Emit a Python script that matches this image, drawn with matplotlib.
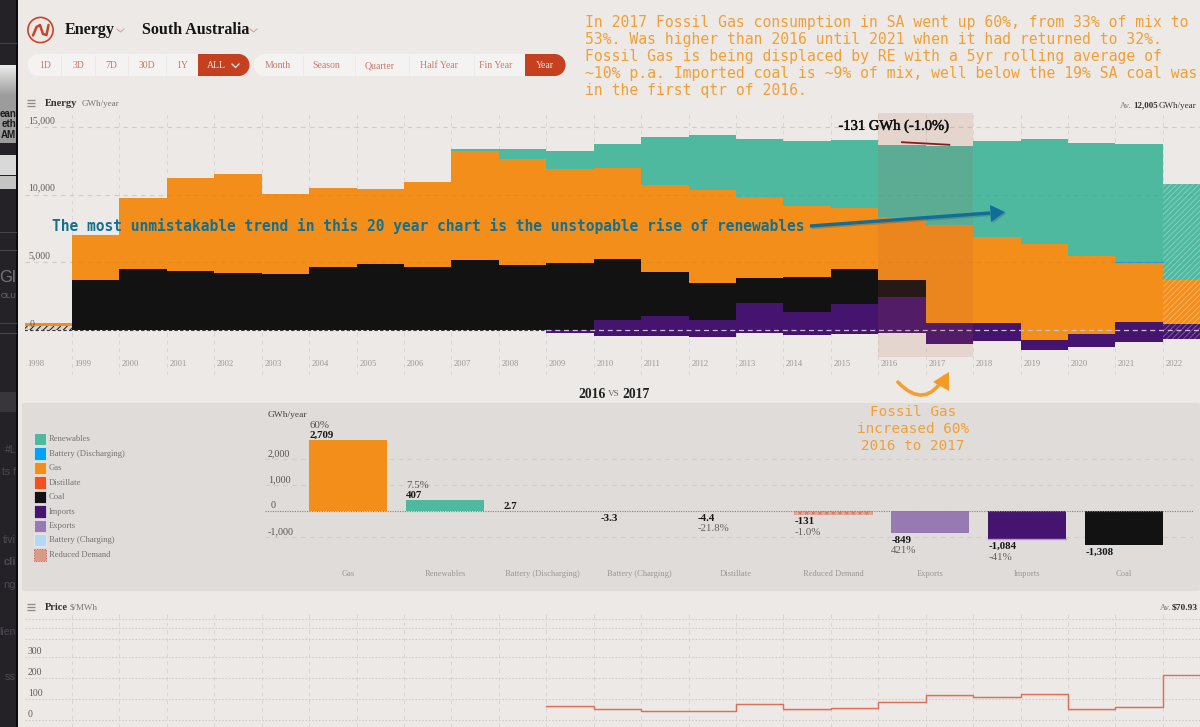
import numpy as np
import matplotlib
matplotlib.use("Agg")
import matplotlib.pyplot as plt
from matplotlib.patches import Rectangle, Circle, FancyArrowPatch, FancyBboxPatch, Polygon
import matplotlib.patheffects as pe

plt.rcParams["font.family"] = ["Liberation Serif", "DejaVu Serif"]
plt.rcParams["hatch.linewidth"] = 0.7

W, H = 1200, 727
BG = "#ECE9E6"
PANEL = "#DFDCD9"
GAS = "#F48E1B"
RENEW = "#4FB9A0"
COAL = "#121212"
IMPORTS = "#44146F"
EXPORTS = "#977AB1"
ORANGE_TXT = "#F2A035"
TEAL_TXT = "#13708F"
GRID = "#D8D5D2"

# energy chart, tops of each stacked layer in GWh/year
years = np.arange(1998, 2023)
exports_low = [0, 0, 0, 0, 0, 0, 0, 0, 0, 0, 0, -250, -440, -440, -520, -200, -395, -320, -200, -1060, -840, -1455, -1260, -910, -670]
imports_top = [0, 0, 0, 0, 0, 0, 0, 0, 0, 0, 0, 0, 740, 1035, 740, 1970, 1360, 1900, 2440, 490, 520, -760, -270, 570, 470]
coal_top = [300, 3700, 4515, 4365, 4190, 4170, 4660, 4860, 4660, 5150, 4785, 4960, 5230, 4270, 3450, 3820, 3950, 4540, 3725, 490, 520, -760, -270, 570, 470]
gas_top = [490, 7030, 9740, 11270, 11520, 10040, 10530, 10410, 10970, 13270, 12630, 11910, 12010, 10750, 10380, 9870, 9200, 9050, 8340, 7750, 6860, 6390, 5480, 4935, 3700]
renew_top = [490, 7030, 9740, 11270, 11520, 10040, 10530, 10410, 10970, 13370, 13390, 13220, 13770, 14280, 14400, 14130, 14010, 14040, 13720, 13620, 13990, 14140, 13840, 13740, 10820]
demand_x = [2016.5, 2017.5]
demand_y = [13890, 13700]
energy_ticks = [15000, 10000, 5000]

# 2016 vs 2017 bars
categories = ["Gas", "Renewables", "Battery (Discharging)", "Battery (Charging)", "Distillate", "Reduced Demand", "Exports", "Imports", "Coal"]
changes = [2709, 407, 2.7, -3.3, -4.4, -131, -849, -1084, -1308]
change_text = ["2,709", "407", "2.7", "-3.3", "-4.4", "-131", "-849", "-1,084", "-1,308"]
pct_text = ["60%", "7.5%", "", "", "-21.8%", "-1.0%", "421%", "-41%", ""]
bar_colors = [GAS, RENEW, "#00A2FA", "#B3D9F0", "#F35020", "#E3A898", EXPORTS, IMPORTS, COAL]
legend_names = ["Renewables", "Battery (Discharging)", "Gas", "Distillate", "Coal", "Imports", "Exports", "Battery (Charging)", "Reduced Demand"]
legend_colors = [RENEW, "#00A2FA", GAS, "#F35020", COAL, IMPORTS, EXPORTS, "#B3D9F0", "#DA9A88"]

# price chart, $/MWh
price_years = np.arange(2009, 2023)
price = [67, 54, 44, 44, 78, 52, 55, 87, 117, 111, 124, 51, 63, 216]
price_grid = [481, 438, 386, 300, 200, 100, 0]


def px_axes(fig, x0, y0, x1, y1, zorder=1):
    # axes from pixel box, y counted from the top of the image
    ax = fig.add_axes([x0 / W, 1 - y1 / H, (x1 - x0) / W, (y1 - y0) / H], zorder=zorder)
    ax.patch.set_alpha(0)
    for s in ax.spines.values():
        s.set_visible(False)
    ax.set_xticks([])
    ax.set_yticks([])
    return ax


def hamburger(ax, x, y):
    for dy in (-3, 0, 3):
        ax.plot([x, x + 8], [y + dy, y + dy], color="#8A8784", lw=0.9, solid_capstyle="butt")


fig = plt.figure(figsize=(12, 7.27), dpi=100, facecolor=BG)

# page layer in pixel coordinates
page = fig.add_axes([0, 0, 1, 1], zorder=0)
page.set_xlim(0, W)
page.set_ylim(H, 0)
page.axis("off")

# the window behind, on the left
page.add_patch(Rectangle((0, 0), 16, H, fc="#242127", ec="none"))
page.add_patch(Rectangle((16, 0), 1.5, H, fc="#0B0A0C", ec="none"))
page.imshow(np.linspace(0.92, 0.62, 30)[:, None], extent=(0, 16, 95, 65), cmap="gray", vmin=0, vmax=1, aspect="auto", zorder=1)
page.add_patch(Rectangle((0, 95), 16, 48, fc="#9C9C9C", ec="none", zorder=1))
page.add_patch(Rectangle((0, 155), 16, 20, fc="#D9D9D9", ec="none", zorder=1))
page.add_patch(Rectangle((0, 176), 16, 13, fc="#C4C4C4", ec="none", zorder=1))
page.add_patch(Rectangle((0, 392), 16, 20, fc="#39363B", ec="none", zorder=1))
page.set_xlim(0, W)
page.set_ylim(H, 0)
for y in (43, 232, 250, 323, 333):
    page.plot([0, 16], [y, y], color="#45424A", lw=0.8)
for txt, y, c, fs, wt in [("ean", 114, "#1A1A1A", 7, "bold"), ("eth", 124, "#1A1A1A", 7, "bold"), ("AM", 135, "#1A1A1A", 7, "bold"),
                          ("Gl", 277, "#77747A", 12, "normal"), ("OLU", 297, "#77747A", 5.5, "normal"), ("#L", 450, "#4D4A52", 7.5, "normal"),
                          ("ts f", 472, "#4D4A52", 7.5, "normal"), ("tivi", 540, "#4D4A52", 7.5, "normal"), ("cli", 562, "#4D4A52", 8, "bold"),
                          ("ng", 585, "#4D4A52", 8, "normal"), ("lien", 632, "#4D4A52", 7.5, "normal"), ("ss", 677, "#4D4A52", 8, "normal")]:
    page.text(16, y, txt, ha="right", va="center", color=c, fontsize=fs, fontweight=wt, family="Liberation Sans", zorder=2)

# header
page.add_patch(Circle((40.5, 30), 12.6, fc="none", ec="#C8452A", lw=1.2))
page.plot([33, 36.5, 40, 43, 46.5, 48.5], [35.5, 27, 25, 34, 35, 25], color="#C8452A", lw=1.8, solid_capstyle="round")
page.text(65, 30, "Energy", fontsize=11.6, fontweight="bold", va="center", color="#151515")
page.text(142, 30, "South Australia", fontsize=11.5, fontweight="bold", va="center", color="#151515")
for x in (117, 250):
    page.plot([x, x + 3.5, x + 7], [29, 32, 29], color="#CFA89E", lw=0.8)

page.add_patch(Rectangle((38.5, 54), 180, 22, fc="#F5F3F1", ec="none"))
page.add_patch(Circle((38.5, 65), 11, fc="#F5F3F1", ec="none"))
page.add_patch(Rectangle((198, 54), 40.5, 22, fc="#C5401F", ec="none"))
page.add_patch(Circle((238.5, 65), 11, fc="#C5401F", ec="none"))
page.add_patch(Rectangle((264.5, 54), 270, 22, fc="#F5F3F1", ec="none"))
page.add_patch(Circle((264.7, 65), 11, fc="#F5F3F1", ec="none"))
page.add_patch(Rectangle((524.7, 54), 30, 22, fc="#C5401F", ec="none"))
page.add_patch(Circle((554.6, 65), 11, fc="#C5401F", ec="none"))
range_labels = ["1D", "3D", "7D", "30D", "1Y", "Month", "Season", "Quarter", "Half Year", "Fin Year"]
range_x = [45, 78, 111, 147, 182, 278, 326, 380, 439, 496]
for lab, x in zip(range_labels, range_x):
    page.text(x, 65.5, lab, ha="center", va="center", fontsize=7, color="#C9796A")
for x in (61, 95, 128, 166, 303, 355, 409, 474):
    page.plot([x, x], [55, 75], color="#ECE9E6", lw=0.6)
page.text(216, 65.5, "ALL", ha="center", va="center", fontsize=7, color="#F6E6E0")
page.plot([232, 235.5, 239], [64, 67.5, 64], color="#F6E6E0", lw=0.9)
page.text(545, 65.5, "Year", ha="center", va="center", fontsize=7, color="#F6E6E0")

note = ("In 2017 Fossil Gas consumption in SA went up 60%, from 33% of mix to\n"
        "53%. Was higher than 2016 until 2021 when it had returned to 32%.\n"
        "Fossil Gas is being displaced by RE with a 5yr rolling average of\n"
        "~10% p.a. Imported coal is ~9% of mix, well below the 19% SA coal was\n"
        "in the first qtr of 2016.")
for i, line in enumerate(note.split("\n")):
    page.text(585, 22 + i * 17.1, line, family="DejaVu Sans Mono", fontsize=10.6, color=ORANGE_TXT, va="center")

# energy title row
hamburger(page, 27, 103)
page.text(45, 103.5, "Energy", fontsize=7.5, fontweight="bold", va="center", color="#333333")
page.text(82, 104, "GWh/year", fontsize=6.5, va="center", color="#777573")
page.text(1120, 105.5, "Av.", fontsize=6.2, va="center", color="#777573")
page.text(1133, 105.5, "12,005", fontsize=6.5, fontweight="bold", va="center", color="#333333")
page.text(1159, 105.5, "GWh/year", fontsize=6.5, va="center", color="#333333")

# energy chart
ax = px_axes(fig, 24.5, 113, 1200, 375)
ax.set_xlim(1998, 1998 + 1175.5 / 47.43)
ax.set_ylim(-(375 - 330) / 0.01352, (330 - 113) / 0.01352)
for yr in years:
    ax.plot([yr, yr], ax.get_ylim(), color=GRID, lw=0.7, dashes=(4, 4), zorder=1)
for v in energy_ticks:
    ax.axhline(v, color=GRID, lw=0.8, dashes=(4, 4), zorder=1)

exports_low = np.array(exports_low, float)
imports_top = np.array(imports_top, float)
coal_top = np.array(coal_top, float)
gas_top = np.array(gas_top, float)
renew_top = np.array(renew_top, float)
n = len(years) - 1  # last year is the unfinished, hatched one
layers = [(exports_low, imports_top, IMPORTS), (imports_top, coal_top, COAL), (coal_top, gas_top, GAS), (gas_top, renew_top, RENEW)]
for low, high, col in layers:
    ax.bar(years[:n], (high - low)[:n], bottom=low[:n], width=1, align="edge", color=col, lw=0, zorder=2)
    ax.bar(years[n], (high - low)[n], bottom=low[n], width=1, align="edge", color=col, lw=0, zorder=2)
    ax.bar(years[n], (high - low)[n], bottom=low[n], width=1, align="edge", facecolor="none", edgecolor=(1, 1, 1, 0.3), hatch="//////", lw=0, zorder=2)
ax.bar(years[0], 300, width=1, align="edge", facecolor="#D8D4D0", edgecolor="#1A1A1A", hatch="/////", lw=0, zorder=3)
ax.plot([2021, 2022], [gas_top[23] + 70] * 2, color="#2E9BD6", lw=0.8, zorder=3)
for v in energy_ticks:
    ax.axhline(v, color="#000000", alpha=0.04, lw=0.8, dashes=(4, 4), zorder=3)
ax.plot(demand_x, demand_y, color="#8B1A1A", lw=1.3, zorder=5)
ax.plot([1998, 2009], [0, 0], color="#3A3836", lw=0.8, dashes=(3, 2), zorder=4)
ax.plot([2009, ax.get_xlim()[1]], [0, 0], color="#C9BFCB", lw=0.9, dashes=(4, 3), zorder=4)
ax.axvspan(2016, 2018, ymin=(375 - 357) / (375 - 113), ymax=1, fc="#B25738", alpha=0.13, lw=0, zorder=4)

for v in energy_ticks:
    ax.annotate(f"{v:,}", (1998, v), xytext=(2.5, 1.5), textcoords="offset points", fontsize=7, color="#5D5A58", va="bottom", zorder=6)
ax.annotate("0", (1998, 0), xytext=(3.5, 1), textcoords="offset points", fontsize=7, color="#5D5A58", va="bottom", zorder=6)
for yr in years:
    ax.annotate(str(yr), (yr, -2440), xytext=(2, -0.5), textcoords="offset points", fontsize=6.2, color="#9A9794", va="center", zorder=6)

ax.text(2016.33, 15070, "-131 GWh (-1.0%)", fontsize=10.5, ha="center", va="center", color="#111111",
        path_effects=[pe.withStroke(linewidth=0.35, foreground="#111111")], zorder=7)

# overlay for the hand drawn notes
top = fig.add_axes([0, 0, 1, 1], zorder=5)
top.set_xlim(0, W)
top.set_ylim(H, 0)
top.axis("off")
top.patch.set_alpha(0)
top.text(52, 226, "The most unmistakable trend in this 20 year chart is the unstopable rise of renewables",
         family="DejaVu Sans Mono", fontweight="bold", fontsize=10.5, color=TEAL_TXT, va="center")
for dx, col, a in ((1.5, "#44606A", 0.35), (0, "#0F6E9A", 1)):
    top.plot([810 + dx, 990 + dx], [226 + dx, 213 + dx], color=col, alpha=a, lw=2.4, solid_capstyle="butt")
    top.add_patch(Polygon([(990 + dx, 205 + dx), (1005 + dx, 212 + dx), (991 + dx, 222 + dx)], fc=col, alpha=a, ec="none"))
top.add_patch(FancyArrowPatch((896, 380), (946, 374), connectionstyle="arc3,rad=0.72", arrowstyle="-", color=ORANGE_TXT, lw=2.6))
top.add_patch(Polygon([(949, 372), (949, 391), (933, 382)], fc="#F59A25", ec="none"))
for i, line in enumerate(["Fossil Gas", "increased 60%", "2016 to 2017"]):
    top.text(913, 412 + i * 17, line, family="DejaVu Sans Mono", fontsize=10.3, color=ORANGE_TXT, ha="center", va="center", zorder=3)

# comparison panel
page.add_patch(FancyBboxPatch((22, 403), 1178, 188, boxstyle="round,pad=0,rounding_size=2", fc=PANEL, ec="none"))
page.text(578, 394, "2016", fontsize=9.8, fontweight="bold", va="center", color="#222222")
page.text(608, 394.5, "VS", fontsize=6.6, va="center", color="#666462")
page.text(622, 394, "2017", fontsize=9.8, fontweight="bold", va="center", color="#222222")
for i, (name, col) in enumerate(zip(legend_names, legend_colors)):
    y = 433 + i * 14.45
    if name == "Reduced Demand":
        page.add_patch(Rectangle((34, y), 12.3, 12.3, fc=col, ec="#D9543E", lw=0.7, ls=":"))
    else:
        page.add_patch(Rectangle((34, y), 12.3, 12.3, fc=col, ec="#F1EEEC", lw=0.5))
    page.text(49, y + 6.3, name, fontsize=6.2, va="center", color="#77736F")

bx = px_axes(fig, 265, 403, 1193, 591)
bx.set_xlim((265 - 348) / 97, (1193 - 348) / 97)
bx.set_ylim(-(591 - 511) / 0.0262, (511 - 403) / 0.0262)
for v in (2000, 1000, -1000):
    bx.axhline(v, color="#CFCCC9", lw=0.8, dashes=(4, 4), zorder=1)
    bx.annotate(f"{v:,}", (-0.856, v), xytext=(2, 2), textcoords="offset points", fontsize=7.2, color="#55524F", zorder=4)
bx.annotate("0", (-0.856, 0), xytext=(4, 2), textcoords="offset points", fontsize=7.2, color="#55524F", zorder=4)
idx = np.arange(len(categories))
bars = bx.bar(idx, changes, width=0.8, color=bar_colors, lw=0, zorder=2)
bars[5].set_hatch("xxxxx")
bars[5].set_edgecolor("#E0705A")
bars[5].set_linewidth(0.5)
bars[5].set_linestyle(":")
bx.axhline(0, color="#85827F", lw=0.8, ls=(0, (1, 1.2)), zorder=3)
bx.plot([7 - 0.4, 7 + 0.4], [-1084, -1084], color="#B598D6", lw=1, zorder=2)
for i, cat in enumerate(categories):
    bx.annotate(cat, (i, -2400), ha="center", va="center", fontsize=6.1, color="#9A9794")
    left = i - 0.4
    yb = changes[i]
    if yb > 0:
        bx.annotate(change_text[i], (left, yb), xytext=(0, 0), textcoords="offset points", fontsize=7.8, fontweight="bold", color="#161616", va="bottom", zorder=4)
        if pct_text[i]:
            bx.annotate(pct_text[i], (left, yb), xytext=(0, 7.5), textcoords="offset points", fontsize=7.8, color="#55524F", va="bottom", zorder=4)
    else:
        bx.annotate(change_text[i], (left, yb), xytext=(0, -2), textcoords="offset points", fontsize=7.8, fontweight="bold", color="#161616", va="top", zorder=4)
        if pct_text[i]:
            bx.annotate(pct_text[i], (left, yb), xytext=(0, -9.5), textcoords="offset points", fontsize=7.8, color="#66635F", va="top", zorder=4)
page.text(268, 415, "GWh/year", fontsize=6.8, va="center", color="#45423F")

# price chart
hamburger(page, 27, 607)
page.text(45, 607, "Price", fontsize=7.5, fontweight="bold", va="center", color="#333333")
page.text(70, 607.5, "$/MWh", fontsize=6.5, va="center", color="#777573")
page.text(1160, 607.5, "Av.", fontsize=6.2, va="center", color="#777573")
page.text(1172, 607.5, "$70.93", fontsize=6.8, fontweight="bold", va="center", color="#333333")

cx = px_axes(fig, 24.5, 612, 1200, 727)
cx.set_xlim(ax.get_xlim())
cx.set_ylim(-(727 - 720) / 0.21, (720 - 612) / 0.21)
for yr in years:
    cx.plot([yr, yr], cx.get_ylim(), color=GRID, lw=0.7, dashes=(4, 4), zorder=1)
for v in price_grid:
    cx.axhline(v, color="#CFCCC9", lw=0.8, ls=(0, (1.5, 1.5)), zorder=1)
for v in (300, 200, 100, 0):
    cx.annotate(str(v), (1998, v), xytext=(2.5, 2), textcoords="offset points", fontsize=7, color="#5D5A58")
edges = np.append(price_years, cx.get_xlim()[1])
vals = np.append(price, price[-1])
cx.step(edges, vals, where="post", color="#D9705A", lw=1, zorder=3)
cx.step(edges[:-1], vals[:-1] - 3, where="post", color="#F5C8BA", lw=1, alpha=0.7, zorder=2)

fig.savefig("out.png", dpi=100, facecolor=BG)
